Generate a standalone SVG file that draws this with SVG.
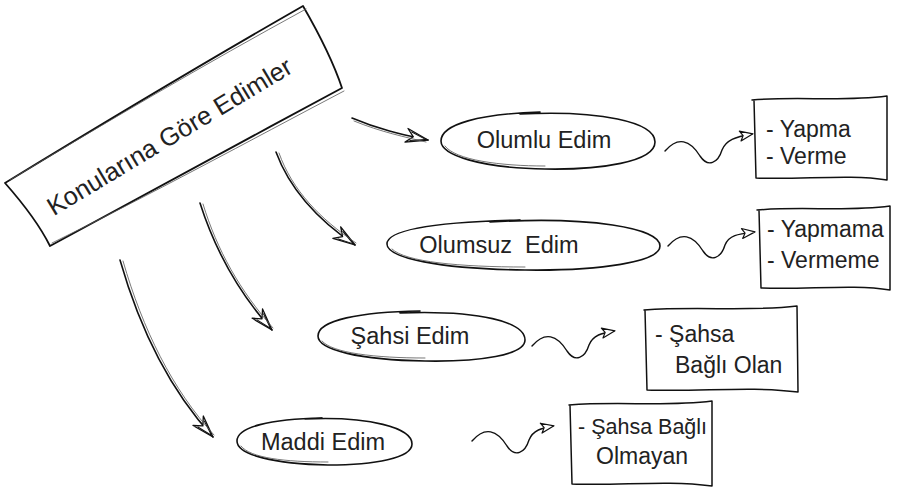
<svg xmlns="http://www.w3.org/2000/svg" width="909" height="493" viewBox="0 0 909 493">
<style>
.t{font-family:"Liberation Sans","Open Sans",sans-serif;fill:#222;}
.n{font-size:23.5px;}
.b{font-size:23px;}
.s{fill:none;stroke:#111;stroke-linecap:round;stroke-linejoin:round;}
.s2{fill:none;stroke:#555;stroke-width:0.8;stroke-linecap:round;}
</style>
<defs>
<marker id="feather" viewBox="0 0 26 16" refX="24" refY="8" markerWidth="26" markerHeight="16" markerUnits="userSpaceOnUse" orient="auto">
<path d="M24,8 L2,1 L9,8 L2,15 Z" fill="#fff" stroke="#111" stroke-width="1.3" stroke-linejoin="round"/>
<path d="M22,8 L6,3.5 M22,8 L6,12.5" stroke="#111" stroke-width="1"/>
</marker>
<marker id="tri" viewBox="0 0 16 12" refX="14" refY="6" markerWidth="16" markerHeight="12" markerUnits="userSpaceOnUse" orient="auto">
<path d="M15,6 L2,1 L5,6 L2,11 Z" fill="#fff" stroke="#111" stroke-width="1.2" stroke-linejoin="round"/>
</marker>
</defs>

<g id="root">
<path class="s" stroke-width="1.8" d="M5,183 C100,125 200,65 303,6 C318,32 332,58 342,88 C245,140 150,192 50,246 C38,222 20,200 5,183 Z"/>
<path class="s2" d="M10,180 C105,123 205,64 306,9 M344,91 C247,142 152,194 52,243"/>
<text class="t" font-size="25.5" text-anchor="middle" transform="translate(174,144) rotate(-31)">Konularına Göre Edimler</text>
</g>

<g id="connectors">
<path class="s" stroke-width="1.6" d="M352,118 C380,130 405,135 428,140" marker-end="url(#feather)"/>
<path class="s2" d="M354,121 C381,132 405,137 426,142"/>
<path class="s" stroke-width="1.6" d="M276,152 C290,190 318,220 355,245" marker-end="url(#feather)"/>
<path class="s2" d="M279,153 C292,190 320,219 356,243"/>
<path class="s" stroke-width="1.6" d="M200,203 C215,250 238,292 272,330" marker-end="url(#feather)"/>
<path class="s2" d="M203,204 C217,250 240,291 273,328"/>
<path class="s" stroke-width="1.6" d="M120,260 C140,330 170,390 213,437" marker-end="url(#feather)"/>
<path class="s2" d="M123,261 C143,330 172,389 214,435"/>

<path class="s" stroke-width="1.4" d="M665,151 C678,136 690,140 700,156 C708,168 718,163 722,150 C726,140 735,137 752,134" marker-end="url(#tri)"/>
<path class="s" stroke-width="1.4" d="M668,246 C681,231 693,235 703,251 C711,263 721,258 725,245 C729,235 738,234 754,232" marker-end="url(#tri)"/>
<path class="s" stroke-width="1.4" d="M532,346 C545,331 557,335 567,351 C575,363 585,358 589,345 C593,335 602,333 614,331" marker-end="url(#tri)"/>
<path class="s" stroke-width="1.4" d="M472,441 C485,426 497,430 507,446 C515,458 525,453 529,440 C533,430 542,428 553,426" marker-end="url(#tri)"/>
</g>

<g id="olumlu">
<path class="s" stroke-width="1.6" d="M520,114 C600,110 655,122 655,142 C655,162 600,170 545,169 C480,168 441,155 441,141 C441,124 480,114 540,112"/>
<path class="s2" d="M445,146 C455,160 500,166 545,166"/>
<text class="t n" x="544" y="148" text-anchor="middle">Olumlu Edim</text>
</g>

<g id="olumsuz">
<path class="s" stroke-width="1.6" d="M490,222 C590,216 660,228 660,246 C660,262 600,271 525,270 C440,269 387,258 387,244 C387,229 440,222 520,220"/>
<path class="s2" d="M392,249 C405,262 460,267 525,267"/>
<text class="t n" x="499" y="253" text-anchor="middle" xml:space="preserve">Olumsuz  Edim</text>
</g>

<g id="sahsi">
<path class="s" stroke-width="1.6" d="M400,313 C480,310 525,322 525,340 C525,355 480,362 425,361 C360,360 318,350 318,336 C318,320 360,312 420,311"/>
<path class="s2" d="M322,341 C332,353 375,358 425,358"/>
<text class="t n" x="410" y="344" text-anchor="middle">Şahsi Edim</text>
</g>

<g id="maddi">
<path class="s" stroke-width="1.6" d="M305,419 C370,416 412,428 412,444 C412,458 375,465 328,465 C275,464 237,455 237,441 C237,427 270,419 322,418"/>
<path class="s2" d="M241,446 C250,458 285,462 328,462"/>
<text class="t n" x="323" y="450" text-anchor="middle">Maddi Edim</text>
</g>

<g id="box1">
<path class="s" stroke-width="1.5" d="M752,100 C800,96 840,102 887,96 L887,180 C850,174 800,180 756,178 L754,100"/>
<text class="t b" x="766" y="137">- Yapma</text>
<text class="t b" x="766" y="164">- Verme</text>
</g>

<g id="box2">
<path class="s" stroke-width="1.5" d="M757,210 C805,206 845,212 890,206 L890,290 C853,284 805,290 761,288 L759,210"/>
<text class="t b" x="767" y="237">- Yapmama</text>
<text class="t b" x="767" y="268">- Vermeme</text>
</g>

<g id="box3">
<path class="s" stroke-width="1.5" d="M644,310 C700,306 750,312 797,306 L798,392 C750,386 700,392 647,390 L645,310"/>
<text class="t b" x="655" y="342">- Şahsa</text>
<text class="t b" x="675" y="373">Bağlı Olan</text>
</g>

<g id="box4">
<path class="s" stroke-width="1.5" d="M569,405 C620,401 665,407 712,401 L712,486 C665,480 620,486 572,484 L570,405"/>
<text class="t" font-size="21.5" x="578" y="434">- Şahsa Bağlı</text>
<text class="t b" x="596" y="464">Olmayan</text>
</g>
</svg>
